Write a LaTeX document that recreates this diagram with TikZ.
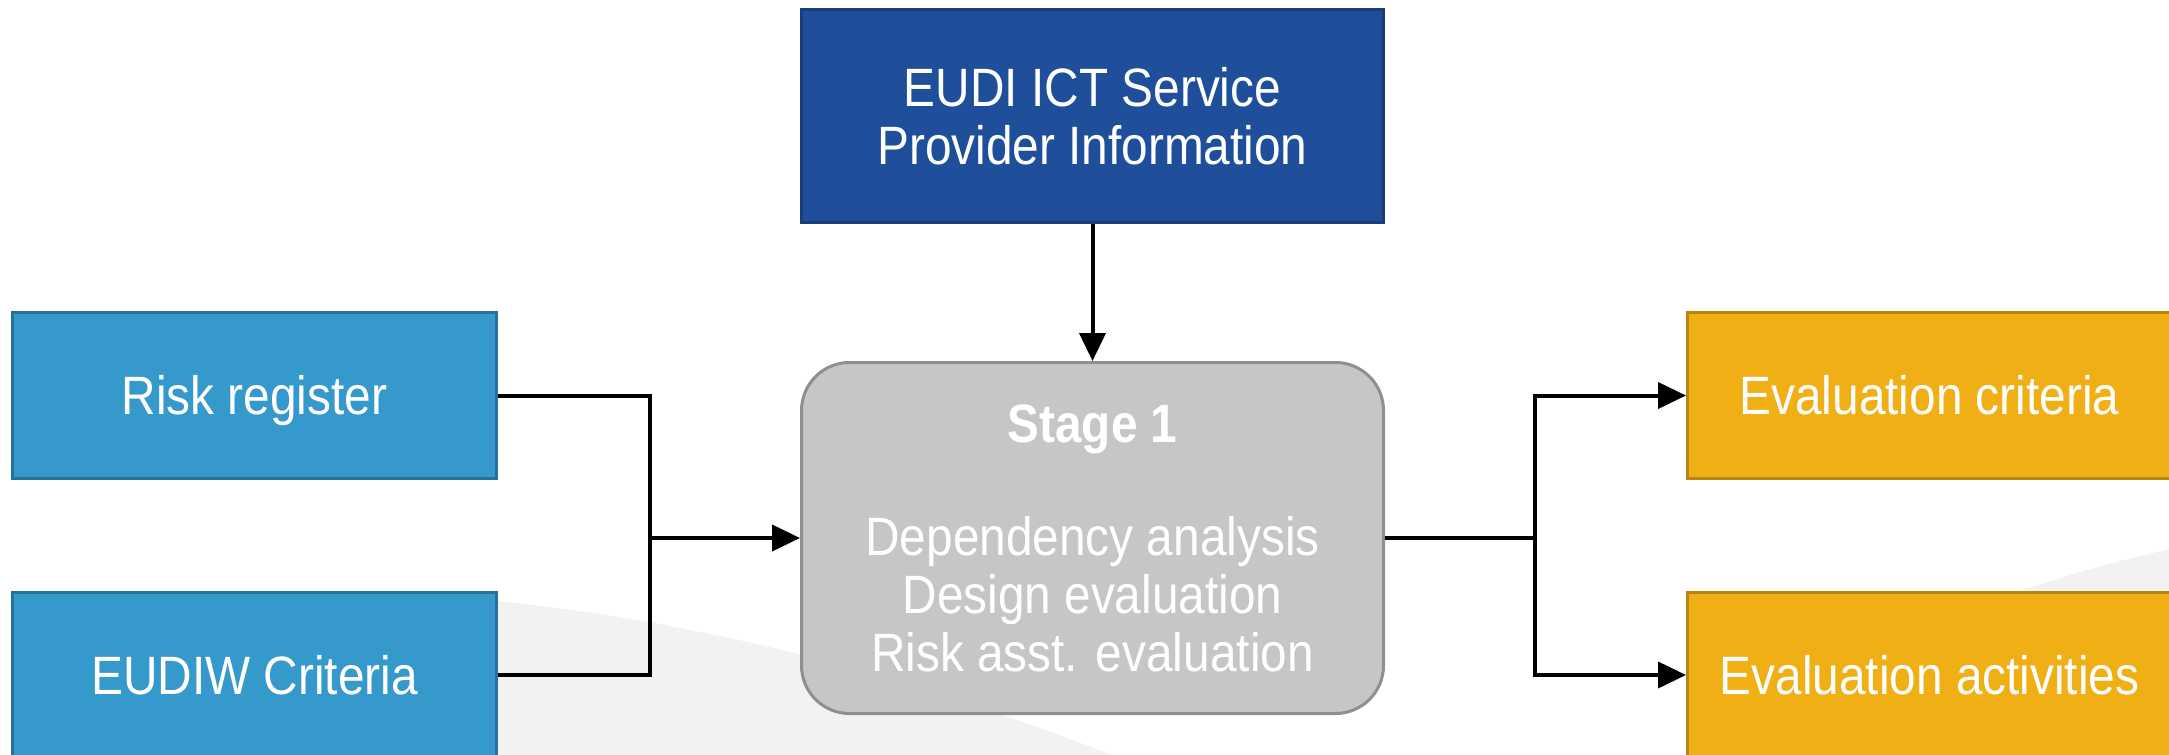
\documentclass[tikz,border=0pt]{standalone}
\usepackage{fontspec}
\setmainfont{Liberation Sans}[FakeStretch=0.885]
\usetikzlibrary{arrows.meta}

\definecolor{infoblue}{HTML}{1F4F9A}
\definecolor{infoedge}{HTML}{1A3D78}
\definecolor{srcblue}{HTML}{3599CC}
\definecolor{srcedge}{HTML}{26709C}
\definecolor{outgold}{HTML}{F0AF15}
\definecolor{outedge}{HTML}{B8860F}
\definecolor{stagefill}{HTML}{C6C6C6}
\definecolor{stageedge}{HTML}{8F8F8F}
\definecolor{backdrop}{HTML}{F2F2F2}

\begin{document}
\begin{tikzpicture}[x=1pt,y=-1pt,
  box/.style={rectangle, line width=3pt, minimum width=484pt, minimum height=166pt,
    inner sep=0pt, text=white, align=center, font=\fontsize{54}{58}\selectfont},
  oneline/.style={text height=38pt, text depth=0pt},
  srcbox/.style={box, oneline, fill=srcblue, draw=srcedge},
  outbox/.style={box, oneline, fill=outgold, draw=outedge},
  infobox/.style={box, fill=infoblue, draw=infoedge, minimum width=582pt, minimum height=213pt},
  stagebox/.style={box, fill=stagefill, draw=stageedge, rounded corners=48pt,
    minimum width=582pt, minimum height=351pt},
  wire/.style={line width=4pt, black},
  flow/.style={wire, -{Triangle[length=28pt,width=26pt]}}
]
\useasboundingbox (0,0) rectangle (2169,755);
\clip (0,0) rectangle (2169,755);
\fill[white] (0,0) rectangle (2169,755);

% soft background swooshes
\fill[backdrop] (380,592) .. controls (700,608) and (950,690) .. (1150,770)
  -- (380,770) -- cycle;
\fill[backdrop] (1990,602) .. controls (2060,576) and (2120,560) .. (2180,547)
  -- (2180,770) -- (1990,770) -- cycle;

% nodes
\node[infobox] (info) at (1092.5,116) {EUDI ICT Service\\Provider Information};
\node[stagebox] (stage) at (1092.5,538)
  {\textbf{Stage 1}\\[55pt]Dependency analysis\\Design evaluation\\Risk asst. evaluation};
\node[srcbox] (risk) at (254.5,395.5) {Risk register};
\node[srcbox] (eudiw) at (254.5,675) {EUDIW Criteria};
\node[outbox] (crit) at (1929.5,395.5) {Evaluation criteria};
\node[outbox] (act) at (1929.5,675) {Evaluation activities};

\coordinate (jl) at (650,538);
\coordinate (jr) at (1535,538);

% connectors
\draw[flow] (info) -- (stage);
\draw[wire] (risk.east) -| (jl) |- (eudiw.east);
\draw[flow] (jl) -- (stage.west);
\draw[wire] (stage.east) -- (jr);
\draw[flow] (jr) |- (crit.west);
\draw[flow] (jr) |- (act.west);
\end{tikzpicture}
\end{document}
